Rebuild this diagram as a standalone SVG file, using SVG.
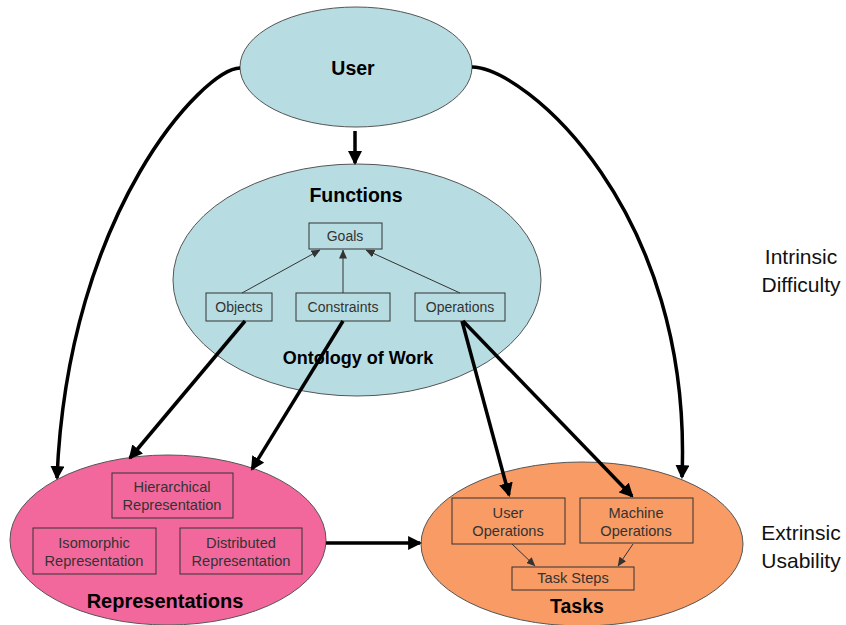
<svg xmlns="http://www.w3.org/2000/svg" width="846" height="625" viewBox="0 0 846 625">
<style>
.ell{stroke:#555;stroke-width:1}
.box{fill:none;stroke:#333;stroke-width:1}
.t{font-family:"Liberation Sans",Arial,sans-serif;fill:#333;text-anchor:middle}
.s{font-size:14px}
.m{font-size:14.6px}
.b{font-family:"Liberation Sans",Arial,sans-serif;font-weight:bold;fill:#000;text-anchor:middle;font-size:19.5px}
.side{font-family:"Liberation Sans",Arial,sans-serif;fill:#111;text-anchor:middle;font-size:21px}
.thick{fill:none;stroke:#000;stroke-width:3.5;marker-end:url(#ah)}
.thin{fill:none;stroke:#333;stroke-width:1;marker-end:url(#as)}
</style>
<defs>
<marker id="ah" markerWidth="4" markerHeight="4" refX="3.4" refY="2" orient="auto" markerUnits="strokeWidth">
<path d="M0,0 L4,2 L0,4 Z" fill="#000"/>
</marker>
<marker id="as" markerWidth="9" markerHeight="8" refX="8.5" refY="4" orient="auto" markerUnits="userSpaceOnUse">
<path d="M0,0 L9,4 L0,8 Z" fill="#333"/>
</marker>
</defs>
<rect width="846" height="625" fill="#fff"/>

<g id="user">
<ellipse class="ell" cx="356" cy="67" rx="116" ry="60" fill="#b7dde2"/>
<text class="b" x="353" y="75">User</text>
</g>

<g id="functions">
<ellipse class="ell" cx="357" cy="280" rx="184" ry="116" fill="#b7dde2"/>
<text class="b" x="356" y="202">Functions</text>
<text class="b" x="358" y="364" style="font-size:18px">Ontology of Work</text>
</g>
<g id="goals"><rect class="box" x="309" y="223" width="73" height="26"/><text class="t s" x="345" y="241">Goals</text></g>
<g id="objects"><rect class="box" x="206" y="293" width="66" height="28"/><text class="t s" x="239" y="312">Objects</text></g>
<g id="constraints"><rect class="box" x="296" y="293" width="94" height="28"/><text class="t s" x="343" y="312">Constraints</text></g>
<g id="operations"><rect class="box" x="415" y="293" width="90" height="28"/><text class="t s" x="460" y="312">Operations</text></g>

<g id="representations">
<ellipse class="ell" cx="168" cy="540" rx="158" ry="85" fill="#f2689c"/>
<text class="b" x="165" y="608" style="font-size:20px">Representations</text>
</g>
<g id="hierarchical"><rect class="box" x="112" y="473" width="121" height="45"/><text class="t m" x="172" y="492">Hierarchical</text><text class="t m" x="172" y="510">Representation</text></g>
<g id="isomorphic"><rect class="box" x="33" y="528" width="123" height="46"/><text class="t m" x="94" y="548">Isomorphic</text><text class="t m" x="94" y="566">Representation</text></g>
<g id="distributed"><rect class="box" x="180" y="528" width="122" height="46"/><text class="t m" x="241" y="548">Distributed</text><text class="t m" x="241" y="566">Representation</text></g>

<g id="tasks">
<ellipse class="ell" cx="582" cy="544" rx="161" ry="82" fill="#f99b64"/>
<text class="b" x="577" y="613">Tasks</text>
</g>
<g id="userops"><rect class="box" x="452" y="498" width="113" height="46"/><text class="t m" x="508" y="518">User</text><text class="t m" x="508" y="536">Operations</text></g>
<g id="machineops"><rect class="box" x="580" y="498" width="113" height="45"/><text class="t m" x="636" y="518">Machine</text><text class="t m" x="636" y="536">Operations</text></g>
<g id="tasksteps"><rect class="box" x="512" y="567" width="122" height="23"/><text class="t m" x="573" y="583">Task Steps</text></g>

<g id="intrinsic"><text class="side" x="801" y="264">Intrinsic</text><text class="side" x="801" y="292">Difficulty</text></g>
<g id="extrinsic"><text class="side" x="801" y="540">Extrinsic</text><text class="side" x="801" y="568">Usability</text></g>

<g id="connectors">
<path class="thin" d="M242,293 L320,250"/>
<path class="thin" d="M343,293 L343,250"/>
<path class="thin" d="M460,293 L366,250"/>
<path class="thin" d="M512,544 L535,566"/>
<path class="thin" d="M633,544 L618,566"/>
<path class="thick" d="M355,131 L355,163"/>
<path class="thick" d="M240,68 C205,68 68,210 57,478"/>
<path class="thick" d="M472,67 C525,68 693,210 682,477"/>
<path class="thick" d="M245,321 L130,458"/>
<path class="thick" d="M343,321 L252,469"/>
<path class="thick" d="M462,321 L509,495"/>
<path class="thick" d="M463,321 L632,496"/>
<path class="thick" d="M326,543 L420,543"/>
</g>
</svg>
